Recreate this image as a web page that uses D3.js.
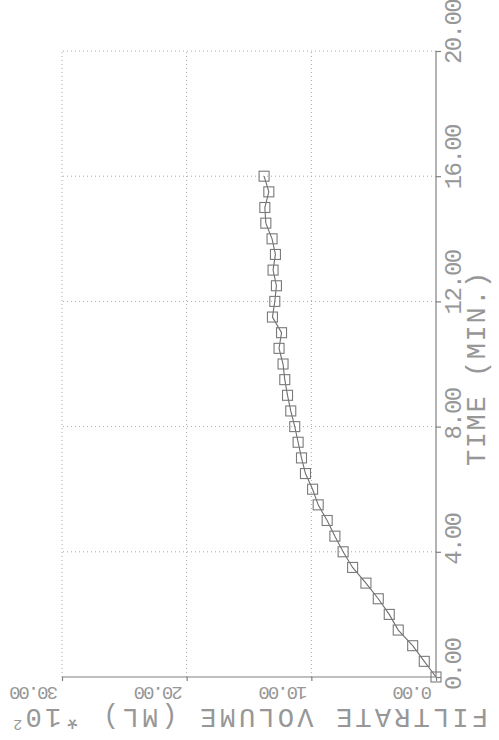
<!DOCTYPE html>
<html><head><meta charset="utf-8">
<script src="https://cdn.jsdelivr.net/npm/d3@7"></script>
<style>html,body{margin:0;padding:0;background:#fff;}svg{display:block;}</style>
</head><body>
<script>
// time in minutes, filtrate volume in mL x10^2
const times = [0,0.5,1,1.5,2,2.5,3,3.5,4,4.5,5,5.5,6,6.5,7,7.5,8,8.5,9,9.5,10,10.5,11,11.5,12,12.5,13,13.5,14,14.5,15,15.5,16];
const volumes = [0,0.94,1.87,3.03,3.75,4.63,5.62,6.69,7.45,8.11,8.73,9.45,9.90,10.47,10.79,11.06,11.33,11.65,11.91,12.13,12.27,12.59,12.39,13.12,12.93,12.80,13.07,12.88,13.15,13.65,13.73,13.41,13.79];
const timeTicks = [0,4,8,12,16,20];
const volumeTicks = [0,10,20,30];
const timeTitle = "TIME (MIN.)";
const volumeTitle = "FILTRATE VOLUME (ML) *10";
const volumeExp = "2";

const W = 499, H = 740;
const svg = d3.select("body").append("svg").attr("width", W).attr("height", H);

const xV = d3.scaleLinear().domain([0,30]).range([436,62]);
const yT = d3.scaleLinear().domain([0,20]).range([677,51]);

const grid = svg.append("g").attr("stroke","#a9a9a9").attr("stroke-width",1).attr("stroke-dasharray","1,3").attr("fill","none");
grid.selectAll("line.v").data(volumeTicks.filter(d=>d>0)).join("line")
  .attr("x1",d=>xV(d)).attr("x2",d=>xV(d)).attr("y1",yT(0)).attr("y2",yT(20));
grid.selectAll("line.h").data(timeTicks.filter(d=>d>0)).join("line")
  .attr("y1",d=>yT(d)).attr("y2",d=>yT(d)).attr("x1",xV(0)).attr("x2",xV(30));

// axes: volume axis along bottom, time axis along right
const volAxis = d3.axisBottom(xV).tickValues(volumeTicks).tickSize(4).tickFormat("");
const gV = svg.append("g").attr("transform",`translate(0,${yT(0)})`).call(volAxis);
const timeAxis = d3.axisRight(yT).tickValues(timeTicks).tickSize(5).tickFormat("");
const gT = svg.append("g").attr("transform",`translate(${xV(0)},0)`).call(timeAxis);
[gV,gT].forEach(g=>{g.selectAll("path,line").attr("stroke","#808080").attr("stroke-width",1.2);});
gV.select("path").attr("d",`M${xV(30)},0H${xV(0)}`);
gT.select("path").attr("d",`M0,${yT(0)}V${yT(20)}`);

const font = "'Liberation Mono', 'DejaVu Sans Mono', monospace";
const txtCol = "#979797";

// time tick labels (rotated -90)
svg.append("g").selectAll("text").data(timeTicks).join("text")
  .attr("transform",d=>`translate(461,${yT(d)+13}) rotate(-90)`)
  .attr("font-family",font).attr("font-size",24).attr("letter-spacing",-1.6)
  .attr("fill",txtCol).text(d=>d3.format(".2f")(d));

// volume tick labels (rotated 180)
svg.append("g").selectAll("text").data(volumeTicks).join("text")
  .attr("transform",d=>`translate(${xV(d)-4},687) rotate(180)`)
  .attr("font-family",font).attr("font-size",19).attr("letter-spacing",-2)
  .attr("fill",txtCol).text(d=>d3.format(".2f")(d));

// titles
svg.append("text").attr("transform",`translate(485,466) rotate(-90)`)
  .attr("font-family",font).attr("font-size",27).attr("letter-spacing",1.6)
  .attr("fill",txtCol).text(timeTitle);
const vt = svg.append("text").attr("transform",`translate(488,709) rotate(180)`)
  .attr("font-family",font).attr("font-size",27).attr("letter-spacing",3.2)
  .attr("fill",txtCol);
vt.append("tspan").text(volumeTitle);
vt.append("tspan").attr("font-size",15).attr("dy",-11).text(volumeExp);

// data line and squares
const pts = times.map((t,i)=>({t, v: volumes[i]}));
svg.append("path").datum(pts)
  .attr("d", d3.line().x(d=>xV(d.v)).y(d=>yT(d.t)))
  .attr("fill","none").attr("stroke","#6e6e6e").attr("stroke-width",1.1);
const s = 10;
svg.append("g").selectAll("rect").data(pts).join("rect")
  .attr("x",d=>xV(d.v)-s/2).attr("y",d=>yT(d.t)-s/2).attr("width",s).attr("height",s)
  .attr("fill","none").attr("stroke","#7a7a7a").attr("stroke-width",1.1);
</script>
</body></html>
